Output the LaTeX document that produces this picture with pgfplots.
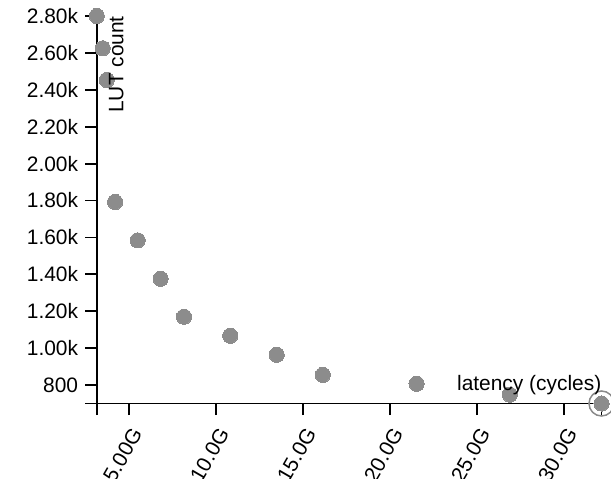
\documentclass[border=0pt]{standalone}
\usepackage{pgfplots}
\pgfplotsset{compat=1.18}
\usepackage{fontspec}
\setmainfont{Liberation Sans}
\definecolor{dot}{HTML}{8C8C8C}
\definecolor{ring}{HTML}{8A8A8A}
\newcommand{\lbl}{\fontsize{21}{24}\selectfont}
\pgfplotstableread{
x y
3.15 2800
3.49 2625
3.72 2453
4.20 1792
5.50 1584
6.82 1376
8.16 1170
10.82 1067
13.49 964
16.14 855
21.53 807
26.89 748
32.16 700
}\pts
\begin{document}
\begin{tikzpicture}
\path[use as bounding box] (0,0) rectangle (611bp,479bp);
\clip (0,0) rectangle (611bp,479bp);
\begin{axis}[
  at={(96.8bp,75.5bp)}, anchor=south west,
  scale only axis, width=504.7bp, height=387.5bp,
  xmin=3.15, xmax=32.16, ymin=700, ymax=2800,
  clip=false,
  /pgf/number format/assume math mode=true,
  axis x line*=bottom, axis y line*=left,
  axis line style={line width=1.8bp, black, -},
  tick style={line width=1.8bp, black},
  tick align=outside, major tick length=11.5bp,
  xtick={5,10,15,20,25,30},
  xticklabels={5.00G,10.0G,15.0G,20.0G,25.0G,30.0G},
  ytick={800,1000,1200,1400,1600,1800,2000,2200,2400,2600,2800},
  yticklabels={800,1.00k,1.20k,1.40k,1.60k,1.80k,2.00k,2.20k,2.40k,2.60k,2.80k},
  extra x ticks={3.15,32.16}, extra x tick labels={},
  extra y ticks={700}, extra y tick labels={},
  x tick label style={font=\lbl, xshift=8bp, yshift=-15bp, anchor=east, rotate=60, inner sep=0pt},
  y tick label style={font=\lbl, anchor=east, inner sep=0pt, xshift=-7bp},
  xlabel={latency (cycles)},
  xlabel style={at={(axis description cs:1,0)}, anchor=base east, yshift=12.8bp, font=\lbl, inner sep=0pt},
  ylabel={LUT count},
  ylabel style={at={(axis description cs:0,1)}, rotate=0, anchor=base east, yshift=-26.5bp, font=\lbl, inner sep=0pt},
]
\addplot[only marks, mark=o, mark size=12.5bp, mark options={draw=ring, line width=1.5bp}] coordinates {(32.16,700)};
\addplot[only marks, mark=*, mark size=7.6bp, mark options={draw=dot, fill=dot, line width=0pt}] table[x=x,y=y] {\pts};
\end{axis}
\end{tikzpicture}
\end{document}
